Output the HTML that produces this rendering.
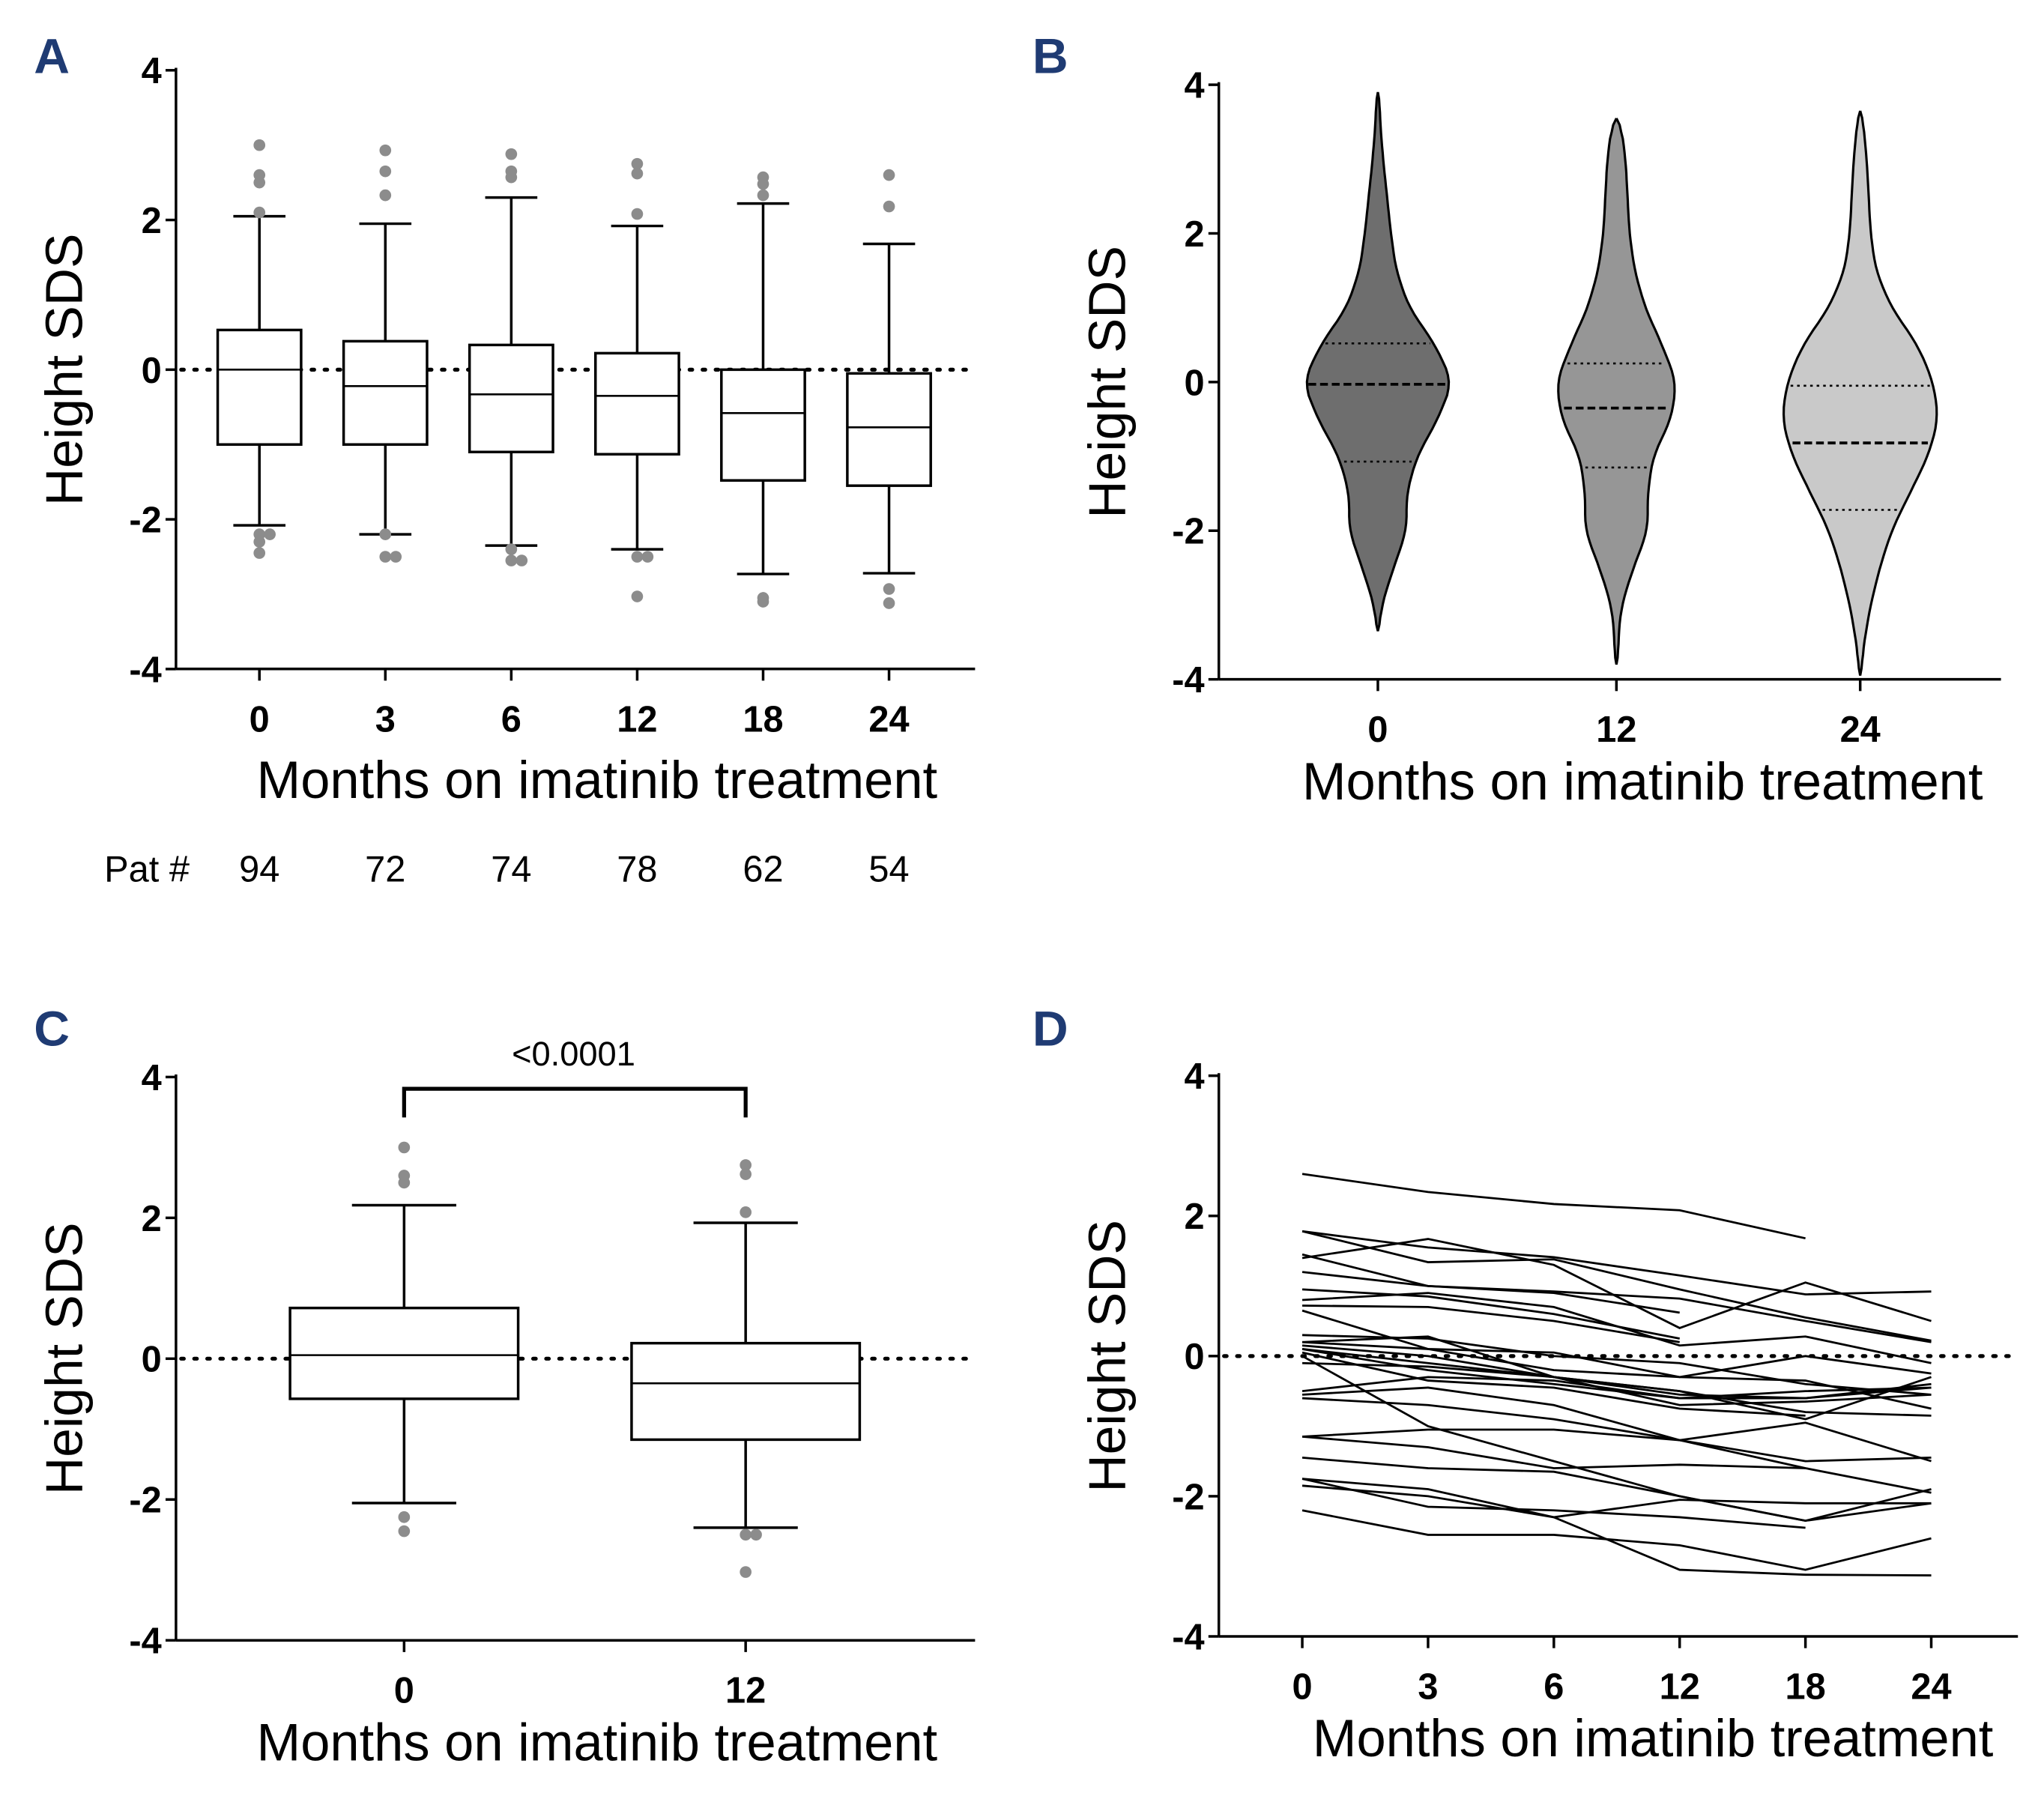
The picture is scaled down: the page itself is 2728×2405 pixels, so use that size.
<!DOCTYPE html>
<html><head><meta charset="utf-8"><style>
html,body{margin:0;padding:0;background:#fff}
svg{display:block}
text{font-family:"Liberation Sans",Arial,sans-serif}
</style></head><body>
<svg id="fig" width="2728" height="2405" viewBox="0 0 1568 1382" preserveAspectRatio="none" xmlns="http://www.w3.org/2000/svg">
<rect width="1568" height="1382" fill="#fff"/>
<text x="26" y="56" font-size="38" font-weight="bold" fill="#1f3b73">A</text>
<text x="792" y="56" font-size="38" font-weight="bold" fill="#1f3b73">B</text>
<text x="26" y="802" font-size="38" font-weight="bold" fill="#1f3b73">C</text>
<text x="792" y="802" font-size="38" font-weight="bold" fill="#1f3b73">D</text>
<text x="80" y="676" font-size="28">Pat #</text>
<text x="440" y="817" font-size="26" text-anchor="middle">&lt;0.0001</text>
</svg>
<script>
// ---- Panel A data ----
const catsA = ["0","3","6","12","18","24"];
const patCounts = ["94","72","74","78","62","54"];
const whiskHiA = [2.05,1.95,2.3,1.92,2.22,1.68];
const q3A = [0.53,0.38,0.33,0.22,0.0,-0.05];
const medA = [0.0,-0.22,-0.33,-0.35,-0.58,-0.77];
const q1A = [-1.0,-1.0,-1.1,-1.13,-1.48,-1.55];
const whiskLoA = [-2.08,-2.2,-2.35,-2.4,-2.73,-2.72];
const outliersA = [[3.0,2.6,2.5,2.1,-2.2,-2.2,-2.3,-2.45],[2.93,2.65,2.33,-2.2,-2.5,-2.5],[2.88,2.65,2.57,-2.4,-2.55,-2.55],[2.75,2.62,2.08,-2.5,-2.5,-3.03],[2.57,2.48,2.33,-3.1,-3.05],[2.6,2.18,-2.93,-3.12]];
const yTicks = [4,2,0,-2,-4];
// ---- Panel B data ----
const catsB = ["0","12","24"];
const violinVals = [3.9,3,2,1.5,1,0.5,0,-0.5,-1,-1.5,-2,-2.5,-3,-3.5,-4];
const violin0 = [0,4,10,14,24,44,57,46,30,22,22,12,3,0,0];
const violin12 = [0,7,10,14,22,35,46,42,28,24,24,13,4,1,0];
const violin24 = [0,5,8,12,24,44,56,60,52,38,24,15,8,3,0];
const violinMin = [-3.35,-3.8,-3.95];
const violinMax = [3.9,3.55,3.65];
const violinQ1 = [-1.07,-1.15,-1.72];
const violinMed = [-0.03,-0.35,-0.82];
const violinQ3 = [0.52,0.25,-0.05];
// ---- Panel C data ----
const catsC = ["0","12"];
const whiskHiC = [2.18,1.93];
const q3C = [0.72,0.22];
const medC = [0.05,-0.35];
const q1C = [-0.57,-1.15];
const whiskLoC = [-2.05,-2.4];
const outliersC = [[3.0,2.6,2.5,-2.25,-2.45],[2.75,2.62,2.08,-2.5,-2.5,-3.03]];
// ---- Panel D data ----
const catsD = ["0","3","6","12","18","24"];
const patients = [
[2.6,2.34,2.17,2.08,1.68,null],
[1.78,1.55,1.41,1.15,0.88,0.92],
[1.4,1.67,1.3,0.4,1.05,0.5],
[1.78,1.34,1.38,0.95,0.55,0.22],
[1.45,1.0,0.9,0.62,null,null],
[1.2,1.0,0.92,0.82,0.5,0.2],
[0.95,0.85,0.6,0.25,null,null],
[0.8,0.9,0.7,0.15,0.28,-0.1],
[0.72,0.7,0.5,0.2,null,null],
[0.65,0.1,-0.2,-0.3,0.0,-0.25],
[0.3,0.25,0.0,-0.1,-0.4,-0.55],
[0.2,0.28,-0.3,-0.55,-0.6,-0.45],
[0.1,-0.2,-0.4,-0.6,-0.5,-0.45],
[0.05,-0.35,-0.45,-0.75,-0.85,null],
[0.0,-1.0,-1.5,-2.0,-2.35,-1.9],
[0.1,-0.1,-0.3,-0.5,-0.8,-0.85],
[-0.5,-0.3,-0.35,-0.6,-0.6,-0.4],
[-0.55,-0.45,-0.7,-1.2,-1.6,null],
[-0.6,-0.7,-0.9,-1.2,-0.95,-1.5],
[-1.15,-1.05,-1.05,-1.2,-1.5,-1.45],
[-1.15,-1.3,-1.6,-1.55,-1.6,-1.95],
[-1.45,-1.6,-1.65,-2.0,-2.35,-2.1],
[-1.75,-2.15,-2.2,-2.3,-2.45,null],
[-1.85,-2.0,-2.3,-2.05,-2.1,-2.1],
[-2.2,-2.55,-2.55,-2.7,-3.05,-2.6],
[-1.75,-1.9,-2.3,-3.05,-3.12,-3.13],
[0.15,0.0,-0.3,-0.7,-0.65,-0.55],
[-0.1,-0.15,-0.3,-0.5,-0.9,-0.3],
[0.2,0.1,0.05,-0.3,-0.35,-0.75]
];

const NS="http://www.w3.org/2000/svg";
const svg=document.getElementById('fig');
function mk(tag,attrs,parent){const e=document.createElementNS(NS,tag);for(const k in attrs)e.setAttribute(k,attrs[k]);(parent||svg).appendChild(e);return e;}
function txt(x,y,s,size,opts){const t=mk('text',Object.assign({x:x,y:y,'font-size':size,'text-anchor':'middle'},opts||{}));t.textContent=s;return t;}

function axes(p){
  const g=mk('g',{});
  
  
  mk('line',{x1:p.x0,y1:p.yTop-2,x2:p.x0,y2:p.yBot,stroke:'#000','stroke-width':2},g);
  mk('line',{x1:p.x0,y1:p.yBot,x2:p.xEnd,y2:p.yBot,stroke:'#000','stroke-width':2},g);
  yTicks.forEach(v=>{const y=p.sy(v);
    mk('line',{x1:p.x0-8,y1:y,x2:p.x0,y2:y,stroke:'#000','stroke-width':2},g);
    const t=txt(p.x0-11,y+10,String(v),28,{'text-anchor':'end','font-weight':'bold'});
    
    
  });
  p.cats.forEach((c,i)=>{const x=p.sx(i);
    mk('line',{x1:x,y1:p.yBot,x2:x,y2:p.yBot+9,stroke:'#000','stroke-width':2},g);
    const t=txt(x,p.yBot+48,c,28,{'font-weight':'bold'});
    
    
  });
  const xt=txt(p.xTitle,p.yBot+p.tOff,'Months on imatinib treatment',40.5);
  
  
  const cy=(p.yTop+p.yBot)/2;
  const yt=txt(0,0,'Height SDS',40,{transform:`translate(${p.x0-72},${cy}) rotate(-90)`});
  
  
}
function zeroLine(p){
  const l=mk('line',{x1:p.x0+4,y1:p.sy(0),x2:p.xEnd,y2:p.sy(0),stroke:'#000','stroke-width':3,'stroke-dasharray':'2 8','stroke-linecap':'round'});
  
  
}
function boxes(p,hi,q3,md,q1,lo,outs,bw,capw){
  p.cats.forEach((c,i)=>{
    const x=p.sx(i);
    const g=mk('g',{});
    
    
    mk('line',{x1:x,y1:p.sy(hi[i]),x2:x,y2:p.sy(q3[i]),stroke:'#000','stroke-width':2},g);
    mk('line',{x1:x,y1:p.sy(q1[i]),x2:x,y2:p.sy(lo[i]),stroke:'#000','stroke-width':2},g);
    mk('line',{x1:x-capw/2,y1:p.sy(hi[i]),x2:x+capw/2,y2:p.sy(hi[i]),stroke:'#000','stroke-width':2},g);
    mk('line',{x1:x-capw/2,y1:p.sy(lo[i]),x2:x+capw/2,y2:p.sy(lo[i]),stroke:'#000','stroke-width':2},g);
    mk('rect',{x:x-bw/2,y:p.sy(q3[i]),width:bw,height:p.sy(q1[i])-p.sy(q3[i]),fill:'#fff',stroke:'#000','stroke-width':2},g);
    mk('line',{x1:x-bw/2,y1:p.sy(md[i]),x2:x+bw/2,y2:p.sy(md[i]),stroke:'#000','stroke-width':1.5},g);
    const cnt={};
    outs[i].forEach(v=>{const k=Math.round(v*10);cnt[k]=(cnt[k]||0);const off=cnt[k]?(cnt[k]%2?8:-8):(0);cnt[k]++;
      const d=mk('circle',{cx:x+off,cy:p.sy(v),r:4.5,fill:'#8c8c8c'},g);
      
      
    });
  });
}
// Panel A
const pA={name:'panel-a',x0:135,xEnd:748,yTop:54,yBot:513,cats:catsA,xTitle:458,tOff:99};
pA.sy=v=>283.5-v*57.4; pA.sx=i=>199+i*96.6;
axes(pA); zeroLine(pA);
boxes(pA,whiskHiA,q3A,medA,q1A,whiskLoA,outliersA,64,40);
patCounts.forEach((n,i)=>{const t=txt(pA.sx(i),676,n,28);
  
  });
// Panel B
const pB={name:'panel-b',x0:935,xEnd:1535,yTop:65,yBot:521,cats:catsB,xTitle:1260,tOff:92};
pB.sy=v=>293-v*57; pB.sx=i=>[1057,1240,1427][i];
axes(pB);
const vProfiles=[violin0,violin12,violin24];
const vFill=['#6e6e6e','#969696','#c9c9c9'];
function interpW(prof,v){for(let k=0;k<violinVals.length-1;k++){const a=violinVals[k],b=violinVals[k+1];if(v<=a&&v>=b){const t=(a-v)/(a-b);return prof[k]+(prof[k+1]-prof[k])*t;}}return 0;}
catsB.forEach((c,i)=>{
  const x=pB.sx(i);const prof=vProfiles[i];
  const pts=[];const N=80;
  for(let k=0;k<=N;k++){const v=violinMax[i]-(violinMax[i]-violinMin[i])*k/N;
    let w=interpW(prof,v); if(k===0||k===N) w=0; w=Math.max(w,k===0||k===N?0:1.5);
    pts.push([v,w]);}
  const sm=pts.map((p,k)=>{if(k===0||k===N)return p;const a=pts[Math.max(0,k-2)][1],b=pts[k-1][1],cc=p[1],d=pts[k+1][1],e=pts[Math.min(N,k+2)][1];return [p[0],(a+b+cc+d+e)/5];});
  let d='M'+x+','+pB.sy(sm[0][0]);
  sm.forEach(p=>{d+=' L'+(x+p[1]).toFixed(1)+','+pB.sy(p[0]).toFixed(1);});
  for(let k=sm.length-1;k>=0;k--){d+=' L'+(x-sm[k][1]).toFixed(1)+','+pB.sy(sm[k][0]).toFixed(1);}
  d+='Z';
  const g=mk('g',{});
  
  
  mk('path',{d:d,fill:vFill[i],stroke:'#000','stroke-width':1.8},g);
  [[violinQ3[i],'2 3',1.5],[violinMed[i],'6 3',2.2],[violinQ1[i],'2 3',1.5]].forEach(q=>{
    const w=interpW(prof,q[0]);
    mk('line',{x1:x-w+3,y1:pB.sy(q[0]),x2:x+w-3,y2:pB.sy(q[0]),stroke:'#000','stroke-width':q[2],'stroke-dasharray':q[1]},g);
  });
});
// Panel C
const pC={name:'panel-c',x0:135,xEnd:748,yTop:826,yBot:1258,cats:catsC,xTitle:458,tOff:92};
pC.sy=v=>1042-v*54; pC.sx=i=>[310,572][i];
axes(pC); zeroLine(pC);
boxes(pC,whiskHiC,q3C,medC,q1C,whiskLoC,outliersC,175,80);
const br=mk('path',{d:`M${pC.sx(0)},857 L${pC.sx(0)},835 L${pC.sx(1)},835 L${pC.sx(1)},857`,fill:'none',stroke:'#000','stroke-width':3});


// Panel D
const pD={name:'panel-d',x0:935,xEnd:1548,yTop:825,yBot:1255,cats:catsD,xTitle:1268,tOff:92};
pD.sy=v=>1040-v*53.75; pD.sx=i=>999+i*96.5;
axes(pD); zeroLine(pD);
patients.forEach((s,j)=>{
  const pts=[];s.forEach((v,i)=>{if(v!==null)pts.push(pD.sx(i).toFixed(1)+','+pD.sy(v).toFixed(1));});
  const l=mk('polyline',{points:pts.join(' '),fill:'none',stroke:'#000','stroke-width':1.6});
  
  
});
</script>
</body></html>
